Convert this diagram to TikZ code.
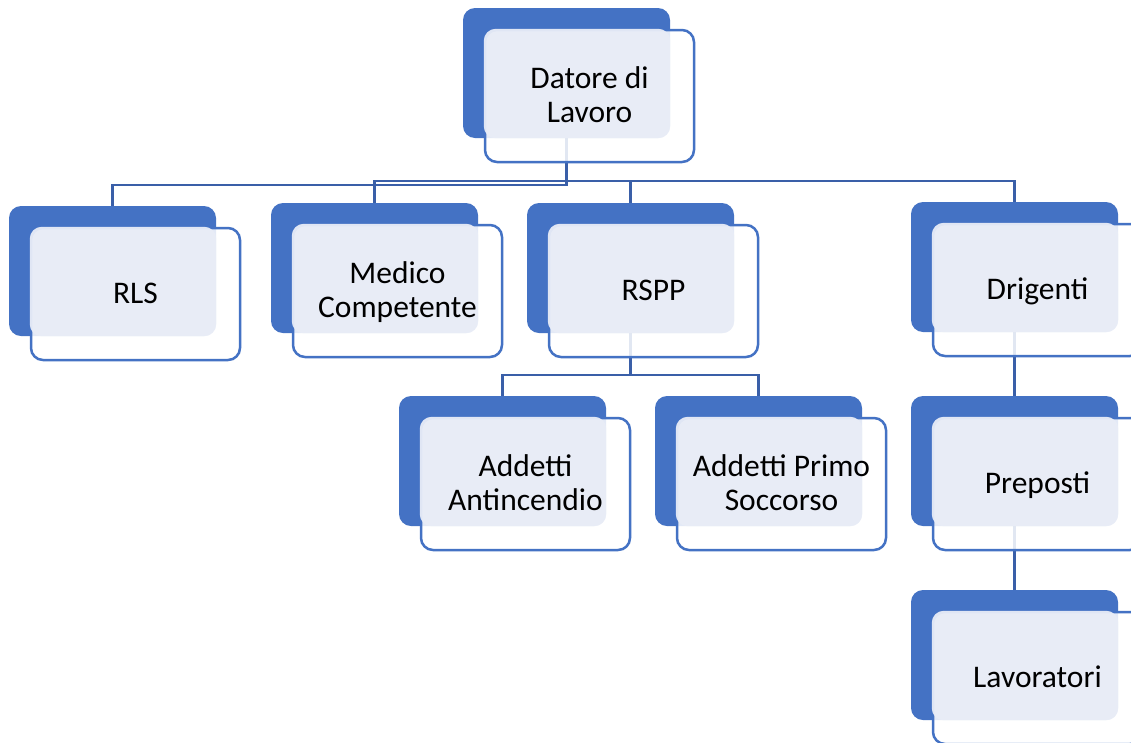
\documentclass[tikz,border=0pt]{standalone}
\usepackage{fontspec}
\setmainfont{Carlito}
\definecolor{boxblue}{HTML}{4472C4}
\definecolor{lightfill}{HTML}{E9EDF7}
\definecolor{linkblue}{HTML}{3A5FA8}
\pgfdeclarelayer{bg}
\pgfsetlayers{bg,main}
\newcommand\ls{\rule[-6pt]{0pt}{30pt}}
\tikzset{
  bluebox/.style={fill=boxblue, draw=none, rounded corners=12pt, minimum width=207pt, minimum height=130pt, inner sep=0pt},
  outbox/.style={fill=white, fill opacity=0.85, draw=boxblue, draw opacity=1, line width=2.5pt, rounded corners=12pt, minimum width=209pt, minimum height=132pt, inner sep=0pt},
  litebox/.style={fill=lightfill, fill opacity=0.95, rounded corners=12pt},
  txt/.style={align=center, inner sep=0pt, font=\fontsize{31.5}{34}\selectfont, text=black},
  link/.style={draw=linkblue, line width=2.7pt}
}
\newcommand\orgbox[4]{%
  \node[bluebox] (#1) at (#2+103.5, #3+65) {};
  \node[outbox] (#1o) at (#2+126.5, #3+88) {};
  \fill[litebox] (#1o.north west) rectangle (#1.south east);
  \node[txt] (#1t) at (#1o.center) {#4};
}
\begin{document}
\begin{tikzpicture}[x=1pt,y=-1pt]
\clip (0,0) rectangle (1131,742);
\begin{pgfonlayer}{bg}
\fill[white] (0,0) rectangle (1131,742);
\end{pgfonlayer}
\coordinate (levA) at (0,185);
\coordinate (levB) at (0,181);
\coordinate (levC) at (0,375);
% boxes
\orgbox{datore}{463}{8}{\ls Datore di\\\ls Lavoro}
\orgbox{rls}{9}{206}{\ls RLS}
\orgbox{medico}{271}{203}{\ls Medico\\\ls Competente}
\orgbox{rspp}{527}{203}{\ls RSPP}
\orgbox{drig}{911}{202}{\ls Drigenti}
\orgbox{anti}{399}{396}{\ls Addetti\\\ls Antincendio}
\orgbox{primo}{655}{396}{\ls Addetti Primo\\\ls Soccorso}
\orgbox{prep}{911}{396}{\ls Preposti}
\orgbox{lav}{911}{590}{\ls Lavoratori}
% connectors, behind the boxes
\begin{pgfonlayer}{bg}
\draw[link] (datore.south) -- (datore.south |- levA) -| (rls.north);
\draw[link] (datore.south) -- (datore.south |- levB) -| (medico.north);
\draw[link] (datore.south) -- (datore.south |- levB) -| (rspp.north);
\draw[link] (datore.south) -- (datore.south |- levB) -| (drig.north);
\draw[link] (rspp.south) -- (rspp.south |- levC) -| (anti.north);
\draw[link] (rspp.south) -- (rspp.south |- levC) -| (primo.north);
\draw[link] (drig.south) -- (prep.north);
\draw[link] (prep.south) -- (lav.north);
\end{pgfonlayer}
\end{tikzpicture}
\end{document}
